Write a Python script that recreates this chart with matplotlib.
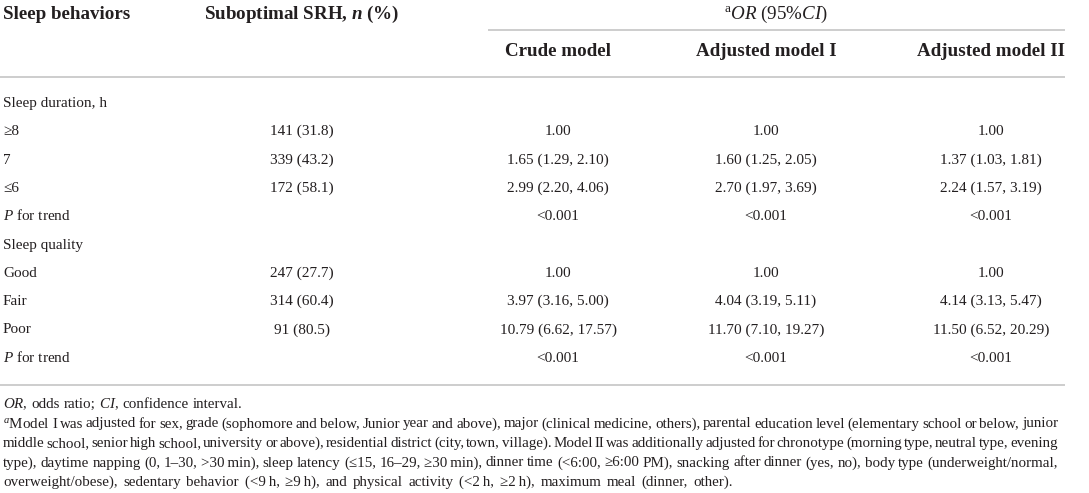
import matplotlib
matplotlib.use("Agg")
import matplotlib.pyplot as plt

plt.rcParams["font.family"] = ["Liberation Serif", "DejaVu Serif"]
plt.rcParams["mathtext.fontset"] = "custom"
plt.rcParams["mathtext.rm"] = "Liberation Serif"
plt.rcParams["mathtext.it"] = "Liberation Serif:italic"
plt.rcParams["mathtext.bf"] = "Liberation Serif:bold"
plt.rcParams["mathtext.bfit"] = "Liberation Serif:italic:bold"

# table content
col_headers = ["Crude model", "Adjusted model I", "Adjusted model II"]
row_labels = ["Sleep duration, h", "\u22658", "7", "\u22646", r"$\mathit{P}$ for trend",
              "Sleep quality", "Good", "Fair", "Poor", r"$\mathit{P}$ for trend"]
srh = ["", "141 (31.8)", "339 (43.2)", "172 (58.1)", "",
       "", "247 (27.7)", "314 (60.4)", "91 (80.5)", ""]
crude = ["", "1.00", "1.65 (1.29, 2.10)", "2.99 (2.20, 4.06)", "<0.001",
         "", "1.00", "3.97 (3.16, 5.00)", "10.79 (6.62, 17.57)", "<0.001"]
adj1 = ["", "1.00", "1.60 (1.25, 2.05)", "2.70 (1.97, 3.69)", "<0.001",
        "", "1.00", "4.04 (3.19, 5.11)", "11.70 (7.10, 19.27)", "<0.001"]
adj2 = ["", "1.00", "1.37 (1.03, 1.81)", "2.24 (1.57, 3.19)", "<0.001",
        "", "1.00", "4.14 (3.13, 5.47)", "11.50 (6.52, 20.29)", "<0.001"]

note_abbr = r"$\mathit{OR}$, odds ratio; $\mathit{CI}$, confidence interval."
note_lines = [
    r"$^{a}$Model I was adjusted for sex, grade (sophomore and below, Junior year and above), "
    "major (clinical medicine, others), parental education level (elementary school or below, junior",
    "middle school, senior high school, university or above), residential district (city, town, village). "
    "Model II was additionally adjusted for chronotype (morning type, neutral type, evening",
    "type), daytime napping (0, 1\u201330, >30\u2009min), sleep latency (\u226415, 16\u201329, \u226530\u2009min), "
    "dinner time (<6:00, \u22656:00 PM), snacking after dinner (yes, no), body type (underweight/normal,",
    "overweight/obese), sedentary behavior (<9\u2009h, \u22659\u2009h), and physical activity "
    "(<2\u2009h, \u22652\u2009h), maximum meal (dinner, other).",
]

ink = "#231f20"
rule = "#c9c9c9"

fig = plt.figure(figsize=(10.89, 4.93), dpi=100)
ax = fig.add_axes([0, 0, 1, 1])
ax.set_xlim(0, 1089)
ax.set_ylim(493, 0)
ax.axis("off")
renderer = fig.canvas.get_renderer()

hsize, bsize, nsize = 13.7, 11, 10.8

# header
ax.text(3, 19, "Sleep behaviors", fontsize=hsize, weight="bold", color=ink, va="baseline")
ax.text(302, 19, r"Suboptimal SRH, $\mathbfit{n}$ (%)", fontsize=hsize, weight="bold",
        color=ink, ha="center", va="baseline")
ax.text(776, 19, r"$^{\mathrm{a}}\mathit{OR}$ (95%$\mathit{CI}$)", fontsize=hsize,
        color=ink, ha="center", va="baseline")
ax.hlines(30, 488, 1065, color=rule, lw=1.3)

col_x = [558, 766, 991]
for x, name in zip(col_x, col_headers):
    ax.text(x, 56, name, fontsize=hsize, weight="bold", color=ink, ha="center", va="baseline")
ax.hlines(77, 0, 1065, color=rule, lw=1.3)

# body rows
for i, lab in enumerate(row_labels):
    y = 107 + i * 28.3
    ax.text(3, y, lab, fontsize=bsize, color=ink, va="baseline")
    ax.text(302, y, srh[i], fontsize=bsize, color=ink, ha="center", va="baseline")
    for x, col in zip(col_x, [crude, adj1, adj2]):
        ax.text(x, y, col[i], fontsize=bsize, color=ink, ha="center", va="baseline")
ax.hlines(385, 0, 1065, color=rule, lw=1.3)


def width(s):
    t = ax.text(0, 0, s, fontsize=nsize)
    w = t.get_window_extent(renderer).width
    t.remove()
    return w


space_w = width("x x") - width("xx")


def put_line(y, text, x0=3, x1=1058, justify=True, loose=1.0):
    words = text.split(" ")
    ws = [width(w) for w in words]
    gap = (x1 - x0 - sum(ws)) / (len(words) - 1) if justify else space_w * loose
    x = x0
    for w, wd in zip(words, ws):
        ax.text(x, y, w, fontsize=nsize, color=ink, va="baseline")
        x += wd + gap


put_line(408, note_abbr, justify=False)
for k, line in enumerate(note_lines):
    last = k == len(note_lines) - 1
    put_line(427.5 + k * 19.5, line, justify=not last, loose=1.5)

fig.savefig("out.png", dpi=100)
